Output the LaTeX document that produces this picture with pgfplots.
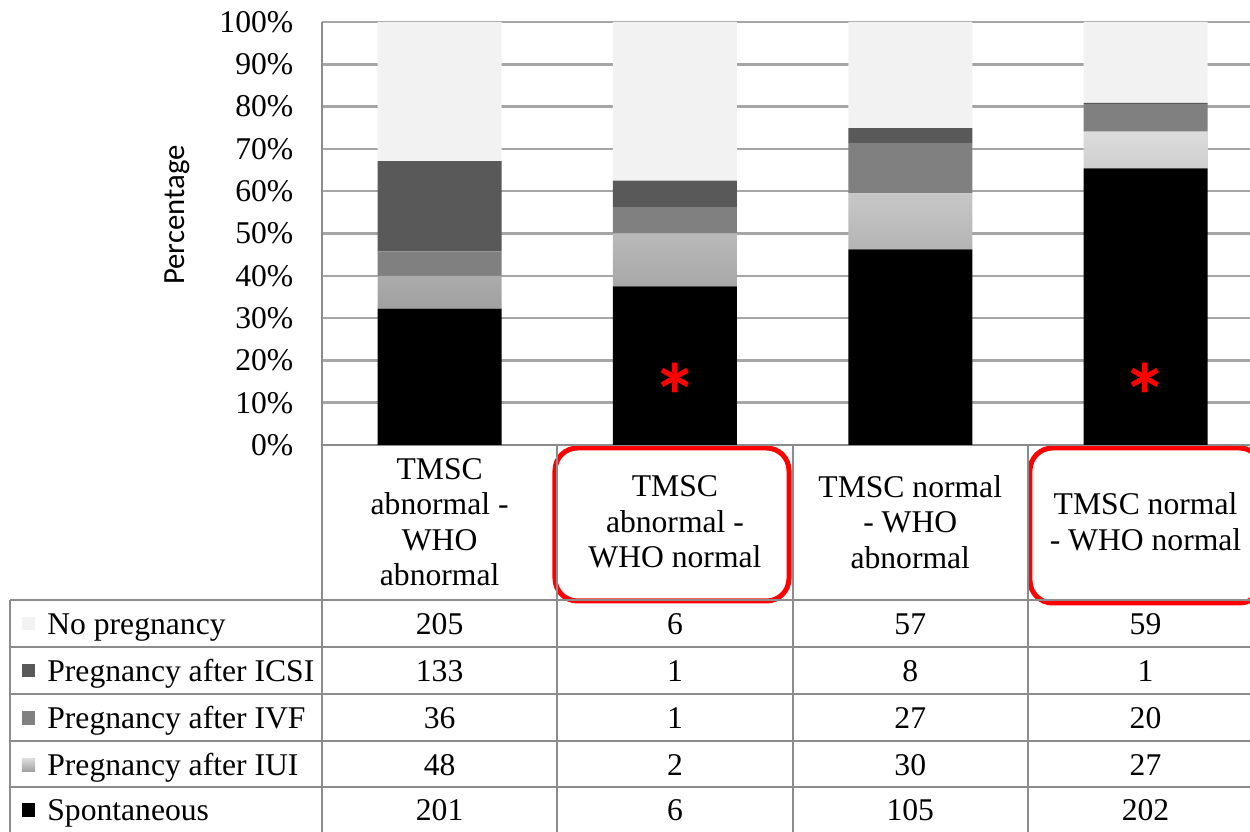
\documentclass[border=0pt]{standalone}
\usepackage{pgfplots}
\pgfplotsset{compat=1.18}
\usepackage{fontspec}
\setmainfont{Liberation Serif}
\newfontfamily\calibri{Carlito}
\newfontfamily\calibrib{Carlito Bold}
\definecolor{nopreg}{HTML}{F2F2F2}
\definecolor{icsi}{HTML}{595959}
\definecolor{ivf}{HTML}{808080}
\definecolor{iuitop}{HTML}{DCDCDC}
\definecolor{iuibot}{HTML}{A0A0A0}
\definecolor{gridc}{HTML}{A6A6A6}
\definecolor{tabc}{HTML}{8C8C8C}
\newcommand{\tf}{\fontsize{18}{20.2}\selectfont}
\begin{document}
\begin{tikzpicture}
\begin{axis}[
 scale only axis, width=18.56cm, height=8.46cm,
 xmin=-0.5, xmax=3.4439, ymin=0, ymax=100,
 ybar stacked, bar width=0.527,
 axis line style={draw=none},
 xtick=\empty,
 ytick={0,10,...,100},
 yticklabel={\pgfmathprintnumber{\tick}\%},
 yticklabel style={font=\tf, anchor=east, xshift=-0.45cm},
 /pgf/number format/assume math mode=true,
 major tick length=0pt,
 ymajorgrids, grid style={gridc, line width=0.05cm},
 clip=false,
]
% Spontaneous
\addplot[fill=black, draw=none] coordinates {(0,32.263) (1,37.5) (2,46.256) (3,65.372)};
% IUI
\addplot[draw=none, top color=iuitop, bottom color=iuibot] coordinates {(0,7.705) (1,12.5) (2,13.216) (3,8.738)};
% IVF
\addplot[fill=ivf, draw=none] coordinates {(0,5.778) (1,6.25) (2,11.894) (3,6.472)};
% ICSI
\addplot[fill=icsi, draw=none] coordinates {(0,21.348) (1,6.25) (2,3.524) (3,0.324)};
% No pregnancy
\addplot[fill=nopreg, draw=none] coordinates {(0,32.905) (1,37.5) (2,25.110) (3,19.094)};

% table lines
\draw[tabc, line width=0.04cm] (axis cs:-0.5,0) -- (axis cs:3.5,0);
\draw[tabc, line width=0.04cm] (axis cs:-1.8260,-36.643) -- (axis cs:3.5,-36.643);
\draw[tabc, line width=0.04cm] (axis cs:-1.8260,-47.754) -- (axis cs:3.5,-47.754);
\draw[tabc, line width=0.04cm] (axis cs:-1.8260,-58.865) -- (axis cs:3.5,-58.865);
\draw[tabc, line width=0.04cm] (axis cs:-1.8260,-69.976) -- (axis cs:3.5,-69.976);
\draw[tabc, line width=0.04cm] (axis cs:-1.8260,-80.851) -- (axis cs:3.5,-80.851);
\draw[tabc, line width=0.04cm] (axis cs:-0.5,100) -- (axis cs:-0.5,-92);
\draw[tabc, line width=0.04cm] (axis cs:-1.8260,-36.643) -- (axis cs:-1.8260,-92);
\draw[tabc, line width=0.04cm] (axis cs:0.5,0) -- (axis cs:0.5,-92);
\draw[tabc, line width=0.04cm] (axis cs:1.5,0) -- (axis cs:1.5,-92);
\draw[tabc, line width=0.04cm] (axis cs:2.5,0) -- (axis cs:2.5,-92);

% axis label
\node[font=\calibri\fontsize{17.5}{20}\selectfont, rotate=90] at (axis cs:-1.1162,54.37) {Percentage};

% category labels
\node[font=\tf, align=center, inner sep=0pt] at (axis cs:0,-18.203) {TMSC\\abnormal -\\WHO\\abnormal};
\node[font=\tf, align=center, inner sep=0pt] at (axis cs:1,-18.203) {TMSC\\abnormal -\\WHO normal};
\node[font=\tf, align=center, inner sep=0pt] at (axis cs:2,-18.203) {TMSC normal\\- WHO\\abnormal};
\node[font=\tf, align=center, inner sep=0pt] at (axis cs:3,-18.203) {TMSC normal\\- WHO normal};

% legend markers
\fill[nopreg] (axis cs:-1.7750,-40.78) rectangle (axis cs:-1.7197,-43.85);
\fill[icsi] (axis cs:-1.7750,-51.89) rectangle (axis cs:-1.7197,-54.96);
\fill[ivf] (axis cs:-1.7750,-63.00) rectangle (axis cs:-1.7197,-66.08);
\shade[top color=iuitop, bottom color=iuibot] (axis cs:-1.7750,-74.11) rectangle (axis cs:-1.7197,-77.19);
\fill[black] (axis cs:-1.7750,-84.75) rectangle (axis cs:-1.7197,-87.83);

% table text
\node[font=\tf, inner sep=0pt, anchor=base west] at (axis cs:-1.6687,-44.917) {No pregnancy};
\node[font=\tf, inner sep=0pt, anchor=base west] at (axis cs:-1.6687,-56.028) {Pregnancy after ICSI};
\node[font=\tf, inner sep=0pt, anchor=base west] at (axis cs:-1.6687,-67.139) {Pregnancy after IVF};
\node[font=\tf, inner sep=0pt, anchor=base west] at (axis cs:-1.6687,-78.251) {Pregnancy after IUI};
\node[font=\tf, inner sep=0pt, anchor=base west] at (axis cs:-1.6687,-88.889) {Spontaneous};
\node[font=\tf, inner sep=0pt, anchor=base] at (axis cs:0,-44.917) {205};
\node[font=\tf, inner sep=0pt, anchor=base] at (axis cs:1,-44.917) {6};
\node[font=\tf, inner sep=0pt, anchor=base] at (axis cs:2,-44.917) {57};
\node[font=\tf, inner sep=0pt, anchor=base] at (axis cs:3,-44.917) {59};
\node[font=\tf, inner sep=0pt, anchor=base] at (axis cs:0,-56.028) {133};
\node[font=\tf, inner sep=0pt, anchor=base] at (axis cs:1,-56.028) {1};
\node[font=\tf, inner sep=0pt, anchor=base] at (axis cs:2,-56.028) {8};
\node[font=\tf, inner sep=0pt, anchor=base] at (axis cs:3,-56.028) {1};
\node[font=\tf, inner sep=0pt, anchor=base] at (axis cs:0,-67.139) {36};
\node[font=\tf, inner sep=0pt, anchor=base] at (axis cs:1,-67.139) {1};
\node[font=\tf, inner sep=0pt, anchor=base] at (axis cs:2,-67.139) {27};
\node[font=\tf, inner sep=0pt, anchor=base] at (axis cs:3,-67.139) {20};
\node[font=\tf, inner sep=0pt, anchor=base] at (axis cs:0,-78.251) {48};
\node[font=\tf, inner sep=0pt, anchor=base] at (axis cs:1,-78.251) {2};
\node[font=\tf, inner sep=0pt, anchor=base] at (axis cs:2,-78.251) {30};
\node[font=\tf, inner sep=0pt, anchor=base] at (axis cs:3,-78.251) {27};
\node[font=\tf, inner sep=0pt, anchor=base] at (axis cs:0,-88.889) {201};
\node[font=\tf, inner sep=0pt, anchor=base] at (axis cs:1,-88.889) {6};
\node[font=\tf, inner sep=0pt, anchor=base] at (axis cs:2,-88.889) {105};
\node[font=\tf, inner sep=0pt, anchor=base] at (axis cs:3,-88.889) {202};

% red highlights
\draw[red, line width=0.1cm, rounded corners=0.45cm] (axis cs:0.4902,-0.709) rectangle (axis cs:1.4847,-36.879);
\draw[red, line width=0.1cm, rounded corners=0.45cm] (axis cs:2.5089,-0.709) rectangle (axis cs:3.495,-37.352);

\coordinate (S1) at (axis cs:1,11.58);
\coordinate (S2) at (axis cs:3,11.58);
\coordinate (BL) at (axis cs:-1.8685,-91.489);
\coordinate (TR) at (axis cs:3.4439,105.20);
\end{axis}
\node[text=red, font=\calibrib\fontsize{52}{52}\selectfont, inner sep=0pt] at (S1) {*};
\node[text=red, font=\calibrib\fontsize{52}{52}\selectfont, inner sep=0pt] at (S2) {*};
\pgfresetboundingbox
\useasboundingbox (BL) rectangle (TR);
\end{tikzpicture}
\end{document}
